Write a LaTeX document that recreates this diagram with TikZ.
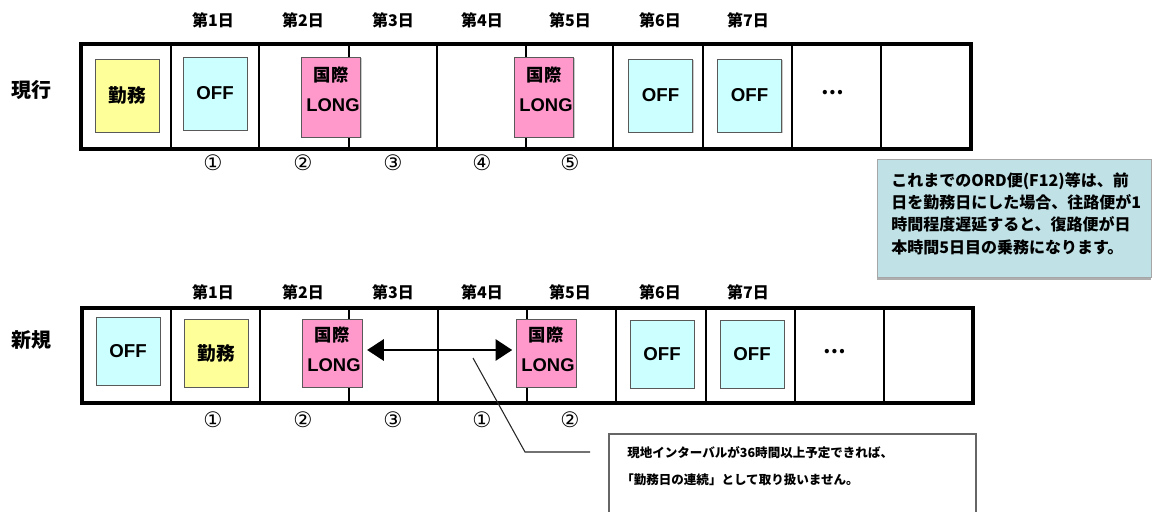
\documentclass[tikz,border=0pt]{standalone}
\usepackage{fontspec}
\setmainfont{Liberation Sans}
\newfontfamily\cjk{Noto Sans CJK JP}
\newfontfamily\symf{DejaVu Sans}
\usetikzlibrary{arrows.meta,shadows,calc}
\newdimen\pxu \pxu=0.75pt
\definecolor{dutyY}{HTML}{FFFF99}
\definecolor{offC}{HTML}{CCFFFF}
\definecolor{longP}{HTML}{FF99CC}
\definecolor{noteT}{HTML}{C0E2E6}
\begin{document}
\begin{tikzpicture}[x=0.75pt,y=-0.75pt,
  rowframe/.style={line width=3pt},
  rowsep/.style={line width=2.2pt},
  cellbox/.style={draw=black!65, line width=0.7pt, inner sep=0pt,
    drop shadow={shadow xshift=0.8pt,shadow yshift=-0.8pt,fill=black!35,opacity=0.6}},
  duty/.style={cellbox, fill=dutyY, minimum width=64\pxu, minimum height=73\pxu,
    font=\cjk\bfseries\fontsize{14}{16}\selectfont},
  off/.style={cellbox, fill=offC, minimum width=64\pxu, minimum height=73\pxu,
    font=\bfseries\fontsize{14}{16}\selectfont},
  long/.style={cellbox, fill=longP, minimum width=59\pxu, minimum height=80\pxu},
  daylbl/.style={font=\cjk\bfseries\fontsize{12}{14}\selectfont},
  circ/.style={font=\symf\fontsize{16}{18}\selectfont},
  rowlbl/.style={font=\cjk\bfseries\fontsize{15}{17}\selectfont},
  kokusai/.style={font=\cjk\bfseries\fontsize{13}{15}\selectfont},
  longtxt/.style={font=\bfseries\fontsize{13.8}{15}\selectfont},
  dots/.style={font=\cjk\bfseries\fontsize{15}{17}\selectfont},
  leader/.style={line width=0.8pt, draw=black!85},
  dblarrow/.style={line width=1.5pt, {Triangle[length=12.5pt,width=16pt]}-{Triangle[length=12.5pt,width=16pt]}}
]
\useasboundingbox (0,0) rectangle (1153,511);

% ---------- day labels ----------
\foreach \x/\d in {213/1,303/2,393/3,482/4,570/5,660/6,748/7}{
  \node[daylbl] (dT\d) at (\x,20) {第\d 日};
  \node[daylbl] (dB\d) at (\x,292) {第\d 日};
}

% ---------- row labels ----------
\node[rowlbl] (lblcur) at (32,90) {現行};
\node[rowlbl] (lblnew) at (32,340) {新規};

% ---------- top row grid ----------
\draw[rowframe] (81,44) rectangle (971,149);
\foreach \x in {171,259,349,437,526,613,703,792,881}
  \draw[rowsep] (\x,44) -- (\x,149);

% ---------- bottom row grid ----------
\draw[rowframe] (82,308) rectangle (973,403);
\foreach \x in {171,260,349,438,527,616,706,795,884}
  \draw[rowsep] (\x,308) -- (\x,403);

% ---------- top row boxes ----------
\node[duty] (t1) at (127,95.5) {勤務};
\node[off]  (t2) at (215,93.5) {OFF};
\node[long] (t3) at (331,97) {};
\node[kokusai] (t3a) at ($(t3.north)+(0,18)$) {国際};
\node[longtxt] (t3b) at ($(t3.north)+(2,49)$) {LONG};
\node[long] (t4) at (544,97) {};
\node[kokusai] (t4a) at ($(t4.north)+(0,18)$) {国際};
\node[longtxt] (t4b) at ($(t4.north)+(2,49)$) {LONG};
\node[off]  (t5) at (660.5,95.5) {OFF};
\node[off]  (t6) at (749.5,95.5) {OFF};
\node[dots] (t7) at (833,93) {…};

% ---------- bottom row boxes ----------
\node[off,  minimum height=68\pxu] (b1) at (128,351) {OFF};
\node[duty, minimum height=68\pxu] (b2) at (216,353) {勤務};
\node[long, minimum height=68\pxu, minimum width=60\pxu] (b3) at (332,353) {};
\node[kokusai] (b3a) at ($(b3.north)+(0,16)$) {国際};
\node[longtxt] (b3b) at ($(b3.north)+(2,47)$) {LONG};
\node[long, minimum height=68\pxu, minimum width=60\pxu] (b4) at (546,353) {};
\node[kokusai] (b4a) at ($(b4.north)+(0,16)$) {国際};
\node[longtxt] (b4b) at ($(b4.north)+(2,47)$) {LONG};
\node[off,  minimum height=68\pxu] (b5) at (662,354) {OFF};
\node[off,  minimum height=68\pxu] (b6) at (752,354) {OFF};
\node[dots] (b7) at (835,352) {…};

% ---------- circled numbers ----------
\foreach \x/\c/\n in {213/①/1,303/②/2,393/③/3,482/④/4,570/⑤/5}
  \node[circ] (cT\n) at (\x,163) {\c};
\foreach \x/\c/\n in {213/①/1,303/②/2,393/③/3,482/①/4,570/②/5}
  \node[circ] (cB\n) at (\x,420) {\c};

% ---------- double arrow ----------
\draw[dblarrow] ([xshift=3.5pt,yshift=2.25pt]b3.east) -- ([xshift=-2.5pt,yshift=2.25pt]b4.west);

% ---------- note box ----------
\node[draw=black!35, line width=0.6pt, fill=noteT, anchor=north west,
      minimum width=274\pxu, minimum height=118\pxu, inner sep=0pt,
      drop shadow={shadow xshift=0pt,shadow yshift=-2pt,fill=black!45,opacity=0.7}] (note) at (877,159) {};
\node[anchor=west, align=left, inner sep=0pt,
      font=\cjk\bfseries\fontsize{12}{16.7}\selectfont] (notetxt) at (891,213.5)
  {これまでのORD便(F12)等は、前\\日を勤務日にした場合、往路便が1\\時間程度遅延すると、復路便が日\\本時間5日目の乗務になります。};

% ---------- callout ----------
\draw[draw=black!60, line width=1pt] (609,515) |- (976,434) -- (976,515);
\node[anchor=west, inner sep=0pt, font=\cjk\bfseries\fontsize{9.4}{11}\selectfont] (call1) at (627,453)
  {現地インターバルが36時間以上予定できれば、};
\node[anchor=west, inner sep=0pt, font=\cjk\bfseries\fontsize{9.4}{11}\selectfont] (call2) at (621,480)
  {「勤務日の連続」として取り扱いません。};
\coordinate (lA) at (473,358);
\coordinate (lB) at (525,452);
\coordinate (lC) at (590,452);
\draw[leader] (lA) -- (lB) -- (lC);
\end{tikzpicture}
\end{document}
